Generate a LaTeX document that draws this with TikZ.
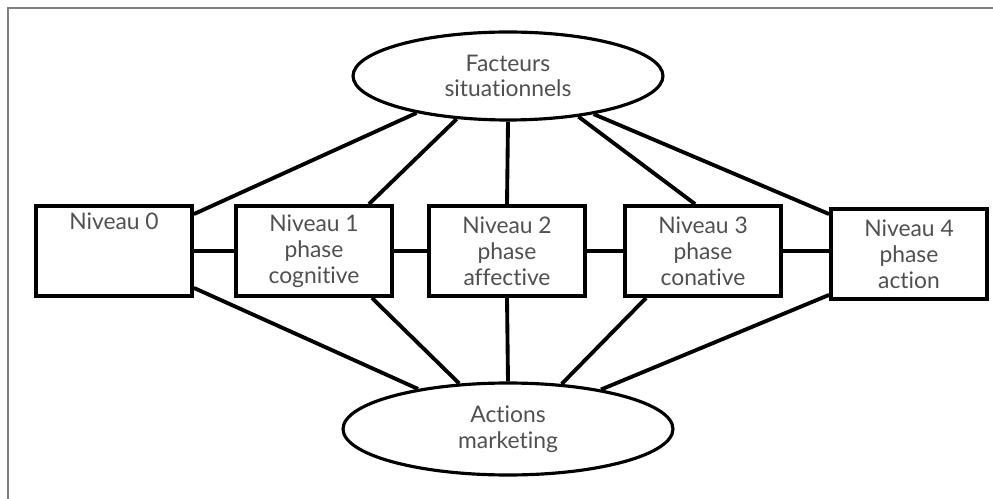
\documentclass[tikz,border=0pt]{standalone}
\usepackage{fontspec}
\setmainfont{Lato}[Ligatures=NoCommon]
\usepackage{xcolor}
\usepackage{tikz}
\usetikzlibrary{shapes.geometric, positioning, calc}

\definecolor{txtgray}{HTML}{505050}
\definecolor{framegray}{HTML}{808080}

\begin{document}
\begin{tikzpicture}[
  x=0.02cm, y=-0.02cm,
  font=\fontsize{13}{14.7}\selectfont, text=txtgray,
  niv/.style={draw, line width=2.2pt, minimum width=3.12cm, minimum height=1.8cm, align=center, inner sep=2pt},
  ell/.style={draw, ellipse, line width=1.8pt, align=center, inner sep=0pt},
  lien/.style={line width=2.2pt}
]
\useasboundingbox (0,0) rectangle (993,499);
% cadre
\draw[framegray, line width=1.2pt] (8,499) |- (993,8);
% ellipses
\node[ell, minimum width=6.2cm, minimum height=1.76cm] (fs) at (508,76) {Facteurs\\situationnels};
\node[ell, minimum width=6.6cm, minimum height=1.84cm] (am) at (508,429) {Actions\\marketing};
% niveaux
\node[niv] (n0) at (114,251) {Niveau 0\\\strut\\\strut};
\node[niv] (n1) at (314,251) {Niveau 1\\phase\\cognitive};
\node[niv] (n2) at (507,251) {Niveau 2\\phase\\affective};
\node[niv] (n3) at (703,251) {Niveau 3\\phase\\conative};
\node[niv] (n4) at (909,254) {Niveau 4\\phase\\action};
% liens horizontaux
\draw[lien] (n0.east) -- (n1.west);
\draw[lien] (n1.east) -- (n2.west);
\draw[lien] (n2.east) -- (n3.west);
\draw[lien] (n3.east) -- (n3.east -| n4.west);
% facteurs situationnels
\draw[lien] (fs.202) -- ($(n0.north east)+(0,10)$);
\draw[lien] (fs.220) -- ($(n1.north east)+(-25,0)$);
\draw[lien] (fs.south) -- (n2.north);
\draw[lien] (fs.330) -- ($(n3.north west)+(72,0)$);
\draw[lien] (fs.336) -- ($(n4.north west)+(0,7)$);
% actions marketing
\draw[lien] ($(n0.south east)+(0,-10)$) -- (am.156);
\draw[lien] ($(n1.south east)+(-22,0)$) -- (am.137);
\draw[lien] (n2.south) -- (am.north);
\draw[lien] ($(n3.south west)+(23,0)$) -- (am.40);
\draw[lien] ($(n4.south west)+(0,-6)$) -- (am.23);
\end{tikzpicture}
\end{document}
